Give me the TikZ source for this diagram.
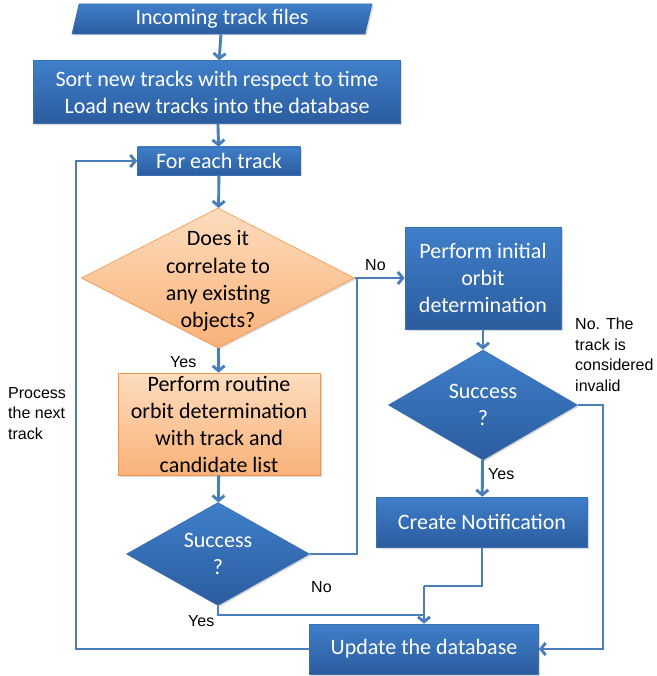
\documentclass[tikz,border=0pt]{standalone}
\usepackage{fontspec}
\setmainfont{Carlito}
\newfontfamily\notefont{Liberation Sans}
\usetikzlibrary{shapes.geometric, arrows.meta, shadows}
\definecolor{boxtop}{RGB}{63,127,202}
\definecolor{boxbot}{RGB}{43,92,158}
\definecolor{boxline}{RGB}{60,110,178}
\definecolor{orgtop}{RGB}{253,220,190}
\definecolor{orgbot}{RGB}{249,178,120}
\definecolor{orgline}{RGB}{247,150,70}
\definecolor{lineblue}{RGB}{74,126,187}

\begin{document}
\begin{tikzpicture}[x=1pt, y=-1pt,
    proc/.style={rectangle, draw=boxline, line width=0.6pt, top color=boxtop, bottom color=boxbot,
        text=white, align=center, inner sep=2pt, font=\fontsize{22}{27}\selectfont,
        drop shadow={opacity=0.3, shadow xshift=1.5pt, shadow yshift=-1.5pt}},
    procorg/.style={proc, draw=orgline, top color=orgtop, bottom color=orgbot, text=black},
    inbox/.style={proc, trapezium, trapezium left angle=73, trapezium right angle=107,
        trapezium stretches body},
    decision/.style={proc, diamond, inner sep=0pt},
    choiceorg/.style={procorg, diamond, inner sep=0pt},
    intext/.style={align=center, text=black, font=\fontsize{22}{27.3}\selectfont},
    outtext/.style={align=center, text=white, font=\fontsize{22}{26.5}\selectfont},
    note/.style={align=left, inner sep=0pt, font=\notefont\fontsize{16}{20.5}\selectfont},
    link/.style={draw=lineblue, line width=2.9pt},
    linkarrow/.style={link, -{Straight Barb[length=5pt, width=12pt]}}
]
    \useasboundingbox (0,0) rectangle (656,676);

    % input and preparation
    \node[inbox, minimum width=300, minimum height=30] (in) at (222,19) {Incoming track files};
    \node[proc, minimum width=367, minimum height=63] (sort) at (217,92)
        {Sort new tracks with respect to time\\Load new tracks into the database};
    \node[proc, minimum width=163, minimum height=28] (each) at (219,161) {For each track};

    % correlation branch
    \node[choiceorg, minimum width=273, minimum height=140,
        label={[intext, yshift=-3pt]center:Does it\\correlate to\\any existing\\objects?}] (corr) at (218,278) {};
    \node[procorg, minimum width=202, minimum height=102] (routine) at (219,424)
        {Perform routine\\orbit determination\\with track and\\candidate list};
    \node[decision, minimum width=183, minimum height=103,
        label={[outtext]center:Success\\?}] (succA) at (218,554) {};

    % initial orbit branch
    \node[proc, minimum width=156, minimum height=102] (iod) at (483,278)
        {Perform initial\\orbit\\determination};
    \node[decision, minimum width=189, minimum height=110,
        label={[outtext]center:Success\\?}] (succB) at (483,405) {};
    \node[proc, minimum width=211, minimum height=50] (notify) at (482,522) {Create Notification};

    % end of the loop
    \node[proc, minimum width=229, minimum height=50] (update) at (424,649) {Update the database};

    % helper points for the bends
    \coordinate (loop) at (76,649);
    \coordinate (noA) at (357,554);
    \coordinate (invalid) at (603,405);
    \coordinate (merge) at (424,586);
    \coordinate (join) at (424,615);

    % connectors
    \draw[linkarrow] (in) -- (sort);
    \draw[linkarrow] (sort) -- (each);
    \draw[linkarrow] (each) -- (corr);
    \draw[linkarrow] (corr) -- (routine);
    \draw[linkarrow] (routine) -- (succA);
    \draw[linkarrow] (corr.east) -- (iod.west);
    \draw[link] (succA.east) -- (noA) |- (corr.east);
    \draw[linkarrow] (iod) -- (succB);
    \draw[linkarrow] (succB) -- (notify);
    \draw[linkarrow] (succB.east) -- (invalid) |- (update.east);
    \draw[link] (notify) |- (merge);
    \draw[linkarrow] (merge) -- (update);
    \draw[link] (succA.south) |- (join);
    \draw[linkarrow] (update.west) -- (loop) |- (each.west);

    % labels on the connectors
    \node[note, anchor=west] (lNoA) at (365,265) {No};
    \node[note, anchor=west] (lYesA) at (170,362) {Yes};
    \node[note, anchor=west] (lNoB) at (311,587) {No};
    \node[note, anchor=west] (lYesB) at (488,474) {Yes};
    \node[note, anchor=west] (lYesC) at (188,621) {Yes};
    \node[note, anchor=north west] (lInvalid) at (575,318) {No. The\\track is\\considered\\invalid};
    \node[note, anchor=north west] (lNext) at (8,387) {Process\\the next\\track};
\end{tikzpicture}
\end{document}
